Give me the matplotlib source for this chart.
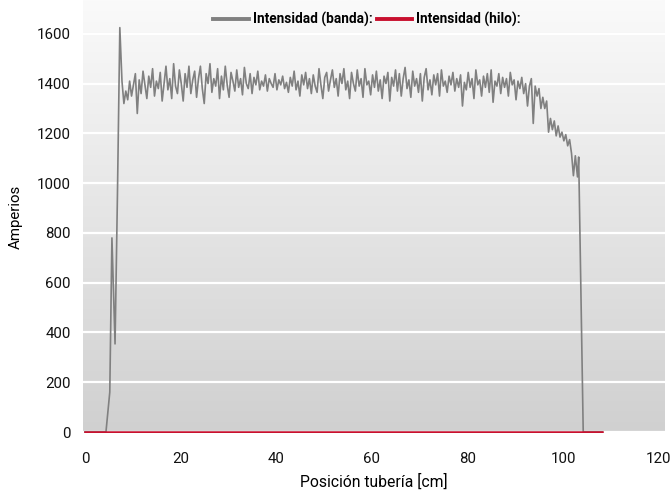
import numpy as np
import matplotlib
matplotlib.use("Agg")
import matplotlib.pyplot as plt

plt.rcParams['font.family'] = ['Roboto', 'DejaVu Sans']

# rise at the start of the pipe (cm, A)
start_x = [0, 4.4, 5.2, 5.65, 6.3, 6.8, 7.3]
start_y = [0, 0, 160, 780, 354, 950, 1625]

# readings every 0.4 cm from 7.75 cm to 102.55 cm
band_step = 0.4
band_from = 7.75
band_vals = [
    1410, 1320, 1370, 1335, 1410, 1350, 1395, 1440, 1280, 1415, 1360, 1450, 1395, 1340, 1430, 1385, 1460, 1350, 1410, 1380,
    1445, 1330, 1400, 1470, 1375, 1420, 1340, 1480, 1390, 1360, 1455, 1400, 1330, 1440, 1385, 1470, 1360, 1415, 1450, 1345,
    1420, 1470, 1380, 1320, 1440, 1400, 1480, 1365, 1420, 1390, 1460, 1340, 1430, 1375, 1470, 1395, 1345, 1445, 1410, 1370,
    1455, 1385, 1420, 1355, 1465, 1400, 1380, 1440, 1360, 1425, 1395, 1450, 1375, 1410, 1390, 1435, 1370, 1420, 1400, 1385,
    1440, 1375, 1415, 1395, 1430, 1380, 1405, 1365, 1425, 1390, 1450, 1375, 1410, 1350, 1435, 1395, 1445, 1380, 1420, 1360,
    1435, 1390, 1365, 1460, 1395, 1340, 1425, 1445, 1370, 1415, 1455, 1385, 1420, 1350, 1440, 1400, 1460, 1375, 1410, 1340,
    1445, 1400, 1370, 1455, 1390, 1420, 1345, 1460, 1395, 1410, 1355, 1435, 1385, 1450, 1370, 1415, 1340, 1430, 1400, 1445,
    1330, 1425, 1390, 1455, 1370, 1440, 1350, 1420, 1465, 1380, 1415, 1345, 1450, 1390, 1420, 1365, 1440, 1330, 1425, 1460,
    1375, 1415, 1355, 1435, 1395, 1440, 1350, 1455, 1390, 1410, 1365, 1430, 1395, 1445, 1370, 1420, 1385, 1435, 1310, 1405,
    1375, 1445, 1385, 1420, 1340, 1455, 1395, 1415, 1350, 1430, 1385, 1440, 1365, 1455, 1325, 1410, 1390, 1440, 1360, 1425,
    1385, 1420, 1350, 1445, 1395, 1415, 1335, 1410, 1380, 1425, 1360, 1400, 1310, 1390, 1420, 1240, 1390, 1350, 1380, 1300,
    1345, 1300, 1330, 1205, 1260, 1215, 1250, 1190, 1230, 1185, 1205, 1170, 1195, 1150, 1175, 1120, 1030, 1110,
]

# fall at the end
end_x = [103.0, 103.25, 104.2, 108.2]
end_y = [1025, 1105, 0, 0]

hilo_x = [0, 108.2]
hilo_y = [0, 0]

y_ticks = [0, 200, 400, 600, 800, 1000, 1200, 1400, 1600]
x_ticks = [0, 20, 40, 60, 80, 100, 120]

band_x = start_x + [band_from + band_step * i for i in range(len(band_vals))] + end_x
band_y = start_y + band_vals + end_y

fig = plt.figure(figsize=(6.7, 4.92), dpi=100)
ax = fig.add_axes([83 / 670, 59 / 492, 582 / 670, 433 / 492])

# vertical grey gradient behind the plot
grad = np.linspace(0, 1, 256).reshape(-1, 1)
cmap = matplotlib.colors.LinearSegmentedColormap.from_list("bg", ["#d0d0d0", "#fafafa"])
ax.imshow(grad, cmap=cmap, aspect="auto", extent=[0, 1, 0, 1],
          transform=ax.transAxes, origin="lower", zorder=0)

for v in y_ticks:
    ax.axhline(v, color="white", lw=1.6, zorder=1)

ax.plot(band_x, band_y, color="#808080", lw=1.2, zorder=3, label="Intensidad (banda):")
ax.plot(hilo_x, hilo_y, color="#c8102e", lw=1.8, zorder=4, label="Intensidad (hilo):")

ax.set_xlim(-0.4, 121.3)
ax.set_ylim(-4, 1736)
ax.set_xticks(x_ticks)
ax.set_yticks(y_ticks)
ax.tick_params(length=0, labelsize=10.8, colors="#111111")
ax.tick_params(axis="x", pad=14)
ax.tick_params(axis="y", pad=9)
for s in ax.spines.values():
    s.set_visible(False)

ax.set_xlabel("Posición tubería [cm]", fontsize=11.3, labelpad=5)
ax.set_ylabel("Amperios", fontsize=10.8, labelpad=10)

leg = ax.legend(loc="upper center", bbox_to_anchor=(0.488, 1.0), ncol=2, frameon=False,
                handlelength=2.6, handletextpad=0.3, columnspacing=0.3,
                prop={"weight": "bold", "size": 9.8})
for line in leg.get_lines():
    line.set_linewidth(2.8)

fig.savefig("out.png", dpi=100)
